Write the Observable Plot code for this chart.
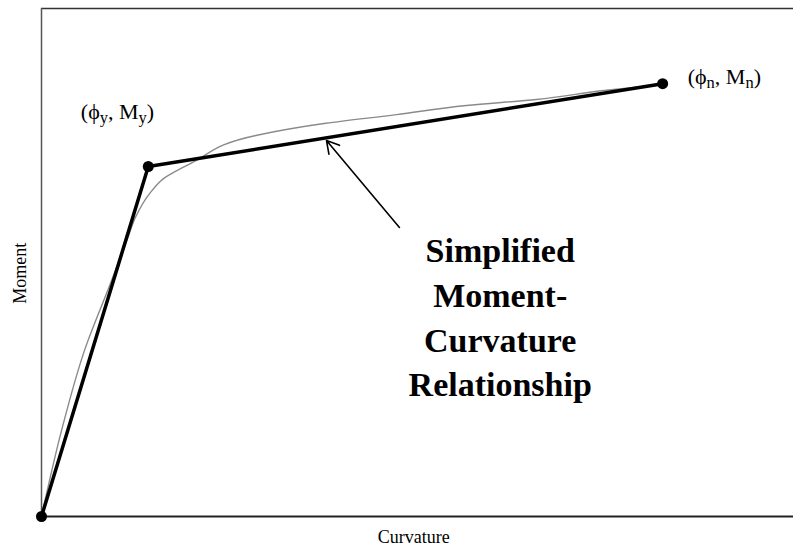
<!DOCTYPE html>
<html><head><meta charset="utf-8">
<script src="https://cdn.jsdelivr.net/npm/d3@7"></script>
<script src="https://cdn.jsdelivr.net/npm/@observablehq/plot@0.6"></script>
<style>body{margin:0;background:#fff;} svg{display:block;}</style>
</head><body><div id="chart"></div>
<script>
const testCurvature = [0, 2.66, 5.72, 9.18, 11.44, 12.5, 14.4, 16.4, 20.1, 28.5, 37.8, 47.2, 56.5, 65.8, 75.1, 79.8, 82.2];
const testMoment    = [0, 16.9, 32.7, 45.9, 54.7, 58.9, 63.6, 66.7, 69.7, 75.0, 77.4, 79.1, 80.9, 82.1, 83.9, 84.6, 85.0];
// Simplified bilinear relationship
const simpleCurvature = [0, 14.2, 82.6];
const simpleMoment    = [0, 68.9, 85.2];
const pointLabels = ["(\u03D5_y, M_y)", "(\u03D5_n, M_n)"];
const annotation = ["Simplified", "Moment-", "Curvature", "Relationship"];
const xLabel = "Curvature";
const yLabel = "Moment";

const testData = testCurvature.map((c, i) => ({c, m: testMoment[i]}));
const simpleData = simpleCurvature.map((c, i) => ({c, m: simpleMoment[i]}));

const serif = "Liberation Serif, Times New Roman, serif";

const plot = Plot.plot({
  width: 793, height: 550,
  marginLeft: 41, marginRight: 0, marginTop: 8, marginBottom: 34,
  x: {domain: [0, 100], axis: null},
  y: {domain: [0, 100], axis: null},
  style: {fontFamily: serif, background: "#fff", color: "#000"},
  marks: [
    Plot.ruleY([100], {stroke: "#333", strokeWidth: 1.5}),
    Plot.ruleX([0], {stroke: "#555", strokeWidth: 1.5}),
    Plot.ruleY([0], {stroke: "#222", strokeWidth: 2}),
    Plot.line(testData, {x: "c", y: "m", curve: "monotone-y", stroke: "#8a8a8a", strokeWidth: 1.4}),
    Plot.line(simpleData, {x: "c", y: "m", stroke: "#000", strokeWidth: 3.5}),
    Plot.dot(simpleData, {x: "c", y: "m", r: 5.5, fill: "#000", stroke: "none"}),
    Plot.text([pointLabels[0]], {x: simpleCurvature[1] - 4.1, y: simpleMoment[1] + 10.8, text: d => d, fontSize: 22, textAnchor: "middle", lineAnchor: "middle"}),
    Plot.text([pointLabels[1]], {x: simpleCurvature[2] + 8.2, y: simpleMoment[2] + 1.4, text: d => d, fontSize: 22, textAnchor: "middle", lineAnchor: "middle"}),
    Plot.arrow([{x1: 47.6, y1: 56.9, x2: 37.9, y2: 74.0}], {x1: "x1", y1: "y1", x2: "x2", y2: "y2", stroke: "#000", strokeWidth: 1.6, headLength: 13, bend: 0}),
    Plot.text([annotation.join("\n")], {x: 61.0, y: 39.7, text: d => d, fontSize: 34, fontWeight: "bold", lineHeight: 1.32, textAnchor: "middle", lineAnchor: "middle"}),
    Plot.text([xLabel], {x: 49.5, frameAnchor: "bottom", dy: 21, text: d => d, fontSize: 18, textAnchor: "middle", lineAnchor: "middle"}),
    Plot.text([yLabel], {y: 47.9, frameAnchor: "left", dx: -21, rotate: -90, text: d => d, fontSize: 18, textAnchor: "middle", lineAnchor: "middle"})
  ]
});

// render subscripts (e.g. "_y") as real subscript tspans
d3.select(plot).selectAll("text").filter(function() { return this.textContent.includes("_"); }).each(function() {
  const el = d3.select(this);
  const s = this.textContent;
  el.text(null);
  const parts = s.split(/_(\w)/);
  parts.forEach((p, i) => {
    if (!p) return;
    if (i % 2 === 1) {
      el.append("tspan").attr("font-size", "0.75em").attr("dy", "0.28em").text(p);
      el.append("tspan").attr("dy", "-0.21em").text("\u200B");
    } else {
      el.append("tspan").text(p);
    }
  });
});

document.getElementById("chart").append(plot);
</script>
</body></html>
